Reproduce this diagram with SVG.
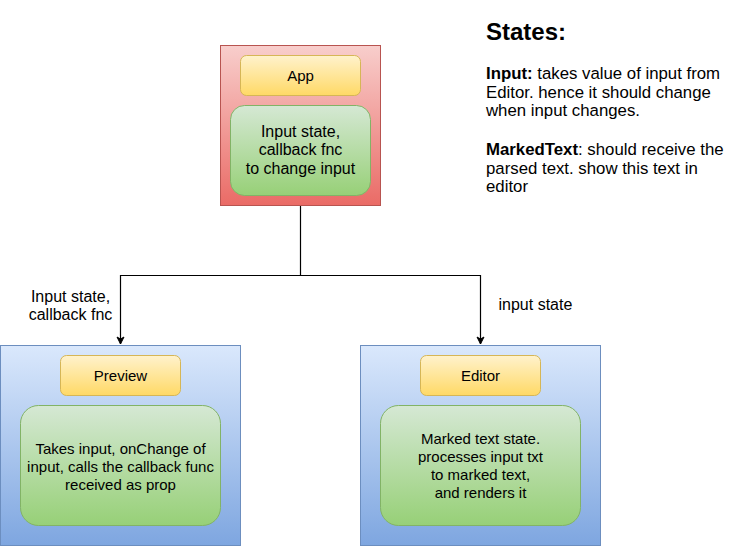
<svg xmlns="http://www.w3.org/2000/svg" width="731" height="546" viewBox="0 0 731 546">
<defs>
<linearGradient id="gRed" x1="0" y1="0" x2="0" y2="1"><stop offset="0" stop-color="#f8cecc"/><stop offset="1" stop-color="#ea6b66"/></linearGradient>
<linearGradient id="gYel" x1="0" y1="0" x2="0" y2="1"><stop offset="0" stop-color="#fff2cc"/><stop offset="1" stop-color="#ffd966"/></linearGradient>
<linearGradient id="gGrn" x1="0" y1="0" x2="0" y2="1"><stop offset="0" stop-color="#d5e8d4"/><stop offset="1" stop-color="#97d077"/></linearGradient>
<linearGradient id="gBlu" x1="0" y1="0" x2="0" y2="1"><stop offset="0" stop-color="#dae8fc"/><stop offset="1" stop-color="#7ea6e0"/></linearGradient>
<marker id="arr" markerWidth="10" markerHeight="10" refX="8" refY="5" orient="auto" markerUnits="userSpaceOnUse">
<path d="M1,1.5 L8,5 L1,8.5 L3,5 Z" fill="#000" stroke="#000" stroke-width="1"/>
</marker>
<style>
text{font-family:"Liberation Sans",Arial,sans-serif;font-size:15px;fill:#000}
.c{text-anchor:middle}
.l16{font-size:16px}
.st{font-size:16.8px}
.red{fill:url(#gRed);stroke:#b85450}
.yel{fill:url(#gYel);stroke:#d6b656}
.grn{fill:url(#gGrn);stroke:#82b366}
.blu{fill:url(#gBlu);stroke:#6c8ebf}
.edge{fill:none;stroke:#000;stroke-width:1.2}
</style>
</defs>
<rect width="731" height="546" fill="#fff"/>

<g id="connectors">
<path class="edge" d="M300.5,205 V275.5 H120.5 V344" marker-end="url(#arr)"/>
<path class="edge" d="M300.5,275.5 H480.5 V344" marker-end="url(#arr)"/>
</g>

<g id="app">
<rect class="red" x="220.5" y="45.5" width="160" height="160"/>
<rect class="yel" x="240.5" y="55.5" width="120" height="40" rx="6"/>
<text class="c" x="300.5" y="80.5">App</text>
<rect class="grn" x="230.5" y="105.5" width="140" height="90" rx="14"/>
<text class="c l16" x="300.5" y="136.5">Input state,</text>
<text class="c l16" x="300.5" y="155">callback fnc</text>
<text class="c l16" x="300.5" y="173.5">to change input</text>
</g>

<g id="preview">
<rect class="blu" x="0.5" y="345.5" width="240" height="200"/>
<rect class="yel" x="60.5" y="355.5" width="120" height="40" rx="6"/>
<text class="c" x="120.5" y="380.5">Preview</text>
<rect class="grn" x="20.5" y="405.5" width="200" height="120" rx="18"/>
<text class="c" x="120.5" y="453.5">Takes input, onChange of</text>
<text class="c" x="120.5" y="471.5">input, calls the callback func</text>
<text class="c" x="120.5" y="489.5">received as prop</text>
</g>

<g id="editor">
<rect class="blu" x="360.5" y="345.5" width="240" height="200"/>
<rect class="yel" x="420.5" y="355.5" width="120" height="40" rx="6"/>
<text class="c" x="480.5" y="380.5">Editor</text>
<rect class="grn" x="380.5" y="405.5" width="200" height="120" rx="18"/>
<text class="c" x="480.5" y="443.5">Marked text state.</text>
<text class="c" x="480.5" y="461.5">processes input txt</text>
<text class="c" x="480.5" y="479.5">to marked text,</text>
<text class="c" x="480.5" y="497.5">and renders it</text>
</g>

<g id="label-left">
<text class="c l16" x="70.5" y="302">Input state,</text>
<text class="c l16" x="70.5" y="320">callback fnc</text>
</g>
<g id="label-right">
<text class="l16" x="498.5" y="310">input state</text>
</g>

<g id="states">
<text x="486" y="40" style="font-size:24px;font-weight:bold">States:</text>
<text class="st" x="486" y="79"><tspan font-weight="bold">Input:</tspan> takes value of input from</text>
<text class="st" x="486" y="97.5">Editor. hence it should change</text>
<text class="st" x="486" y="116">when input changes.</text>
<text class="st" x="486" y="155"><tspan font-weight="bold">MarkedText</tspan>: should receive the</text>
<text class="st" x="486" y="173.5">parsed text. show this text in</text>
<text class="st" x="486" y="192">editor</text>
</g>
</svg>
